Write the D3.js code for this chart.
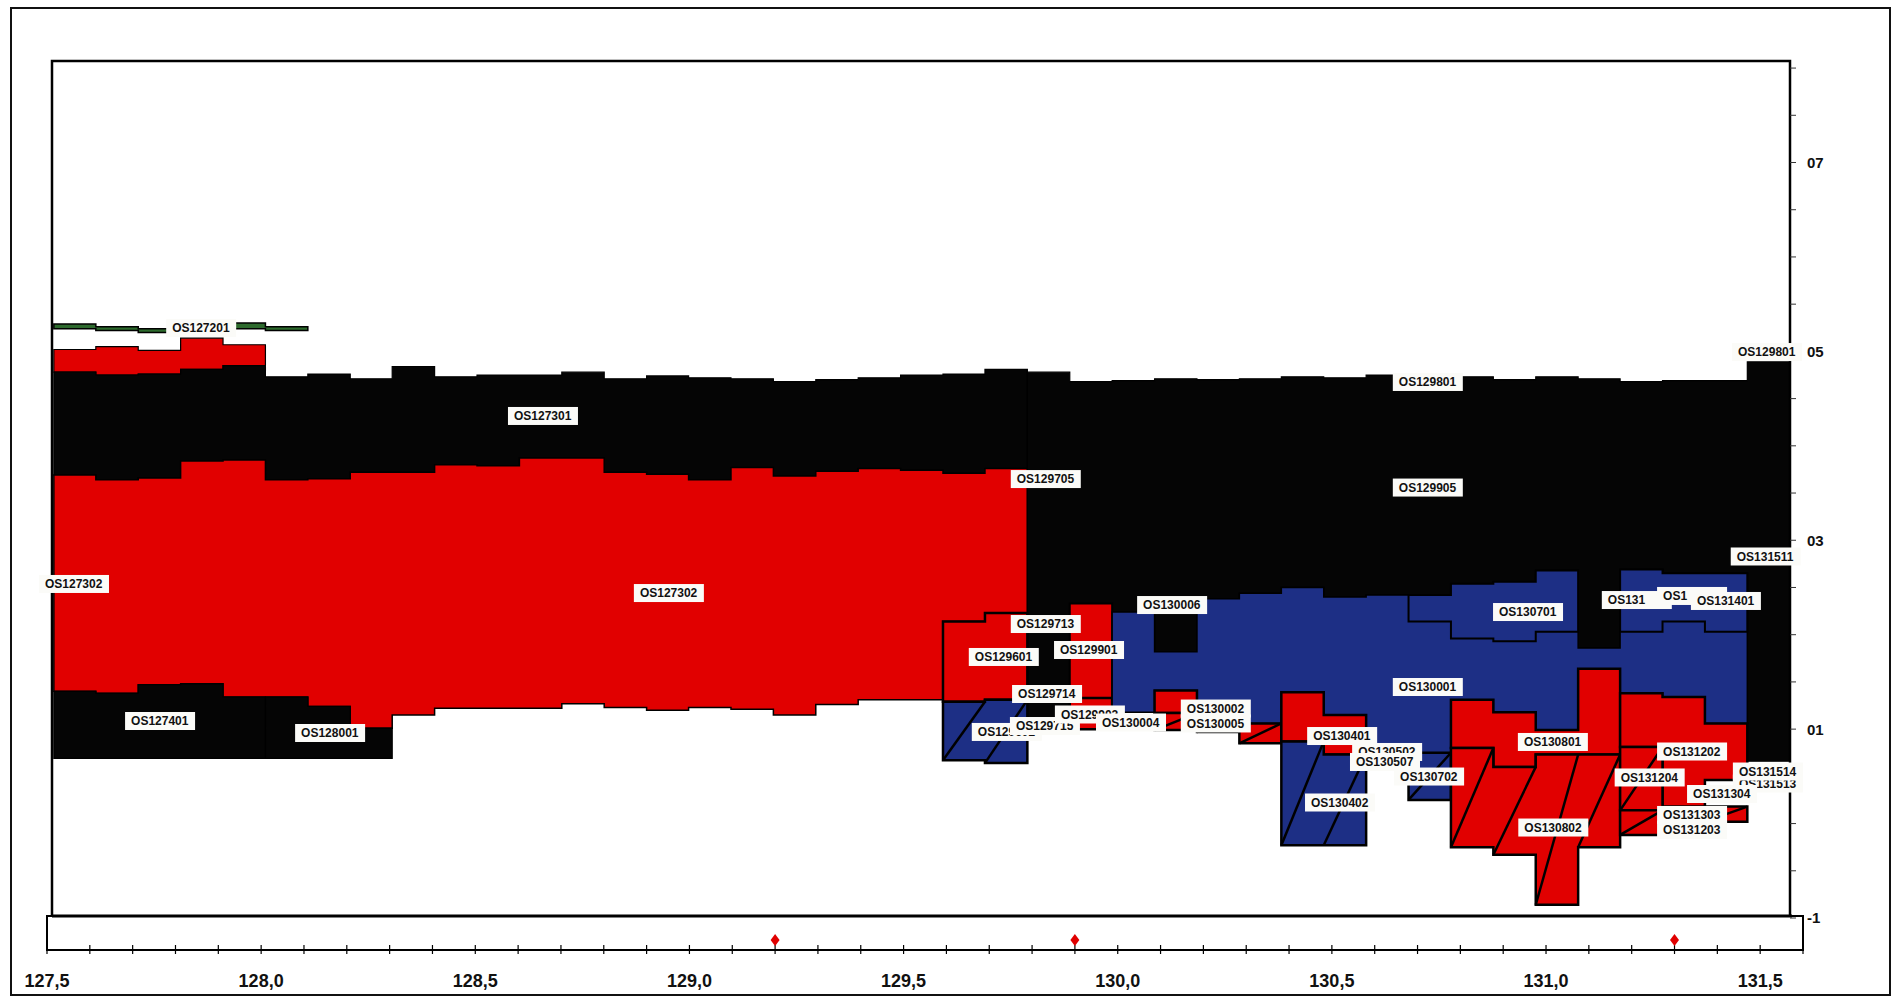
<!DOCTYPE html>
<html><head><meta charset="utf-8">
<script src="https://cdn.jsdelivr.net/npm/d3@7"></script>
<style>body{margin:0;background:#fff}svg{display:block}</style>
</head><body>
<svg id="c" width="1897" height="999"></svg>
<script>
// ---------- DATA ----------
// borehole column edges (km)
const binEdges = [127.516,127.614,127.713,127.812,127.911,128.010,128.109,128.208,128.306,128.405,128.504,128.603,128.702,128.801,128.900,128.998,129.097,129.196,129.295,129.394,129.493,129.592,129.690,129.789,129.888,129.987,130.086,130.185,130.284,130.382,130.481,130.580,130.679,130.778,130.877,130.976,131.075,131.173,131.272,131.371,131.470,131.569];

const xMajorValues = [127.5,128.0,128.5,129.0,129.5,130.0,130.5,131.0,131.5];
const xTickLabels = ["127,5","128,0","128,5","129,0","129,5","130,0","130,5","131,0","131,5"];
const yTickValues = [-1,1,3,5,7];
const yTickLabels = ["-1","01","03","05","07"];
const markerKm = [129.2,129.9,131.3];

// layers: start column, top and bottom elevations per column
const os127201Top = [5.29,5.26,5.24,5.25,5.30,5.26];
const os127201Bot = [5.24,5.22,5.20,5.21,5.24,5.22];
const redUpperTop = [5.02,5.05,5.01,5.14,5.07];
const redUpperBot = [4.78,4.75,4.76,4.81,4.85];
const os127301Top = [4.78,4.75,4.76,4.81,4.85,4.73,4.76,4.71,4.84,4.73,4.75,4.75,4.78,4.71,4.74,4.72,4.71,4.68,4.70,4.72,4.75,4.76,4.81];
const os127301Bot = [3.69,3.64,3.66,3.84,3.85,3.64,3.65,3.72,3.72,3.80,3.79,3.87,3.87,3.72,3.70,3.64,3.77,3.68,3.73,3.76,3.74,3.71,3.76];
const os127302Bot = [1.40,1.38,1.47,1.48,1.34,1.34,1.24,1.01,1.15,1.22,1.22,1.22,1.27,1.23,1.20,1.23,1.21,1.15,1.26,1.31,1.31,2.14,2.23];
const os127401Top = [1.40,1.38,1.47,1.48,1.34];
const os127401Bot = [0.69,0.69,0.69,0.69,0.69];
const os128001Top = [1.34,1.24,1.01];
const os128001Bot = [0.69,0.69,0.69];
const os129905Top = [4.78,4.68,4.69,4.71,4.70,4.71,4.73,4.72,4.75,4.73,4.73,4.70,4.73,4.71,4.68,4.69,4.69,4.89];
const os129905Bot = [1.12,2.33,2.24,1.82,2.38,2.44,2.50,2.40,2.42,2.42,2.54,2.56,2.68,1.86,2.69,2.65,2.65,0.66];
const os129601Top = [2.14,2.23], os129601Bot = [1.29,1.31];
const os129602Top = [1.29,1.31], os129602Bot = [0.67,0.64];
const os129901Top = [2.33], os129901Bot = [1.33];
const os129902Top = [1.33], os129902Bot = [1.00];
const os130001Top = [2.24,1.82,2.38,2.44,2.50,2.40,2.42,2.42,2.54,2.56,2.68,1.86,2.69,2.65,2.65];
const os130001Bot = [1.18,1.41,1.06,1.06,1.39,1.15,0.78,0.75,1.31,1.18,0.99,1.64,1.38,1.34,1.06];
const os130701Top = [2.42,2.54,2.56,2.68], os130701Bot = [2.14,1.96,1.93,2.03];
const os131401Top = [2.69,2.65,2.65], os131401Bot = [2.03,2.14,2.03];
const os130002Top = [1.41], os130002Bot = [1.17];
const os130005Top = [1.17,1.06,1.06], os130005Bot = [0.99,0.97,0.85];
const os130401Top = [1.39,1.15], os130401Bot = [0.87,0.87];
const os130502Top = [0.87], os130502Bot = [0.73];
const os130402Top = [0.87,0.73], os130402Bot = [-0.23,-0.23];
const os130702Top = [0.75], os130702Bot = [0.25];
const os130801Top = [1.31,1.18,0.99,1.64], os130801Bot = [0.80,0.60,0.73,0.73];
const os130802Top = [0.80,0.60,0.73,0.73], os130802Bot = [-0.25,-0.33,-0.86,-0.25];
const os131202Top = [1.38,1.34,1.06], os131202Bot = [0.81,0.18,0.46];
const os131204Top = [0.81], os131204Bot = [0.14];
const os131203Top = [0.14], os131203Bot = [-0.12];
const os131303Top = [0.18], os131303Bot = [0.02];

// labels
const labelNames = ["OS127201","OS127301","OS127302","OS127302","OS127401","OS128001","OS129705","OS129801","OS129801","OS129905","OS131511","OS130006","OS129713","OS130701","OS131","OS1","OS131401","OS129601","OS129901","OS129714","OS129602","OS129715","OS129902","OS130004","OS130002","OS130005","OS130001","OS130401","OS130502","OS130507","OS130702","OS130402","OS130801","OS130802","OS131202","OS131204","OS131513","OS131514","OS131304","OS131303","OS131203"];
const labelKm = [127.860,128.658,127.563,128.952,127.764,128.161,129.832,130.724,131.516,130.724,131.513,130.127,129.832,130.958,131.212,131.341,131.420,129.734,129.933,129.835,129.741,129.830,129.935,130.031,130.229,130.229,130.724,130.524,130.629,130.624,130.727,130.519,131.016,131.017,131.341,131.242,131.518,131.518,131.411,131.341,131.341];
const labelVal = [5.247,4.316,2.537,2.441,1.086,0.959,3.648,4.676,4.993,3.558,2.828,2.314,2.113,2.240,2.367,2.410,2.357,1.764,1.838,1.372,0.970,1.033,1.155,1.070,1.218,1.060,1.446,0.927,0.758,0.652,0.498,0.223,0.864,-0.042,0.763,0.488,0.424,0.551,0.313,0.091,-0.068];

// ---------- STYLE ----------
const RED = "#e10000", BLUE = "#1d2f85", BLACK = "#050505", GREEN = "#2d6a2d";
const FONT = "'Liberation Sans', Arial, Helvetica, sans-serif";

const layers = [
  {start:0, top:os127201Top, bot:os127201Bot, fill:GREEN, sw:1.5},
  {start:0, top:redUpperTop, bot:redUpperBot, fill:RED, sw:1.2},
  {start:0, top:os127301Top, bot:os127301Bot, fill:BLACK, sw:1.2},
  {start:0, top:os127301Bot, bot:os127302Bot, fill:RED, sw:1.5},
  {start:0, top:os127401Top, bot:os127401Bot, fill:BLACK, sw:1.2},
  {start:5, top:os128001Top, bot:os128001Bot, fill:BLACK, sw:1.2},
  {start:23, top:os129905Top, bot:os129905Bot, fill:BLACK, sw:1.2},
  {start:21, top:os129601Top, bot:os129601Bot, fill:RED, sw:2.5},
  {start:21, top:os129602Top, bot:os129602Bot, fill:BLUE, sw:2.5, diag:true},
  {start:24, top:os129901Top, bot:os129901Bot, fill:RED, sw:2},
  {start:24, top:os129902Top, bot:os129902Bot, fill:RED, sw:2.5},
  {start:25, top:os130001Top, bot:os130001Bot, fill:BLUE, sw:1.5},
  {start:32, top:os130701Top, bot:os130701Bot, fill:BLUE, sw:2},
  {start:37, top:os131401Top, bot:os131401Bot, fill:BLUE, sw:2},
  {start:26, top:os130002Top, bot:os130002Bot, fill:RED, sw:2.5},
  {start:26, top:os130005Top, bot:os130005Bot, fill:RED, sw:2.5, diag:true},
  {start:29, top:os130401Top, bot:os130401Bot, fill:RED, sw:2.5},
  {start:30, top:os130502Top, bot:os130502Bot, fill:RED, sw:2.5},
  {start:29, top:os130402Top, bot:os130402Bot, fill:BLUE, sw:2.5, diag:true},
  {start:32, top:os130702Top, bot:os130702Bot, fill:BLUE, sw:2.5, diag:true},
  {start:33, top:os130801Top, bot:os130801Bot, fill:RED, sw:2.5},
  {start:33, top:os130802Top, bot:os130802Bot, fill:RED, sw:2.5, diag:true},
  {start:37, top:os131202Top, bot:os131202Bot, fill:RED, sw:2.5},
  {start:37, top:os131204Top, bot:os131204Bot, fill:RED, sw:2.5, diag:true},
  {start:37, top:os131203Top, bot:os131203Bot, fill:RED, sw:2.5, diag:true},
  {start:39, top:os131303Top, bot:os131303Bot, fill:RED, sw:2.5, diag:true}
];

// ---------- DRAW ----------
const svg = d3.select("#c");
const x = d3.scaleLinear().domain([127.5, 131.6]).range([47, 1803]);
const y = d3.scaleLinear().domain([-1, 7]).range([918, 162.5]);

// outer border
svg.append("rect").attr("x",11).attr("y",8).attr("width",1879).attr("height",987)
  .attr("fill","none").attr("stroke","#111").attr("stroke-width",2);

const line = d3.line().x(d => x(d[0])).y(d => y(d[1]));
const gL = svg.append("g");
layers.forEach(L => {
  const n = L.top.length, pts = [];
  for (let i = 0; i < n; i++) {
    pts.push([binEdges[L.start+i], L.top[i]], [binEdges[L.start+i+1], L.top[i]]);
  }
  for (let i = n-1; i >= 0; i--) {
    pts.push([binEdges[L.start+i+1], L.bot[i]], [binEdges[L.start+i], L.bot[i]]);
  }
  gL.append("path").attr("d", line(pts) + "Z")
    .attr("fill", L.fill).attr("stroke", "#000").attr("stroke-width", L.sw)
    .attr("stroke-linejoin","miter");
  if (L.diag) {
    for (let i = 0; i < n; i++) {
      gL.append("line")
        .attr("x1", x(binEdges[L.start+i])).attr("y1", y(L.bot[i]))
        .attr("x2", x(binEdges[L.start+i+1])).attr("y2", y(L.top[i]))
        .attr("stroke","#000").attr("stroke-width",2.5);
    }
  }
});

// plot frame
svg.append("path").attr("d","M52,917 V61 H1790 V917 Z").attr("fill","none")
  .attr("stroke","#000").attr("stroke-width",2.5);

// bottom strip with axis
const stripTop = 916, axisY = 950;
svg.append("rect").attr("x",x(127.5)).attr("y",stripTop).attr("width",x(131.6)-x(127.5))
  .attr("height",axisY-stripTop).attr("fill","#fff").attr("stroke","#000").attr("stroke-width",2);
// re-draw plot bottom line over strip top
svg.append("line").attr("x1",52).attr("x2",1792).attr("y1",916).attr("y2",916)
  .attr("stroke","#000").attr("stroke-width",3);

const minorX = d3.range(0, 42).map(i => 127.5 + i*0.1);
svg.append("g").selectAll("line").data(minorX).join("line")
  .attr("x1", d => x(d)).attr("x2", d => x(d)).attr("y1", axisY-5).attr("y2", axisY+4)
  .attr("stroke","#000").attr("stroke-width",1.2);
svg.append("g").selectAll("text").data(xMajorValues).join("text")
  .attr("x", d => x(d)).attr("y", 987).attr("text-anchor","middle")
  .attr("font-family",FONT).attr("font-size",18).attr("font-weight","bold").attr("fill","#111")
  .text((d,i) => xTickLabels[i]);

// markers
svg.append("g").selectAll("path").data(markerKm).join("path")
  .attr("d", d => `M${x(d)},934 L${x(d)+4.5},940 L${x(d)},946 L${x(d)-4.5},940 Z`)
  .attr("fill","#e00000");

// right axis
const axisX = 1790;
const minorY = d3.range(0, 19).map(i => -1 + i*0.5);
svg.append("g").selectAll("line").data(minorY).join("line")
  .attr("x1", axisX).attr("x2", axisX+6).attr("y1", d => y(d)).attr("y2", d => y(d))
  .attr("stroke","#333").attr("stroke-width",1);
svg.append("g").selectAll("text").data(yTickValues).join("text")
  .attr("x", 1807).attr("y", d => y(d)).attr("dy","0.36em")
  .attr("font-family",FONT).attr("font-size",15).attr("font-weight","bold").attr("fill","#111")
  .text((d,i) => yTickLabels[i]);

// labels
const gT = svg.append("g");
labelNames.forEach((name, i) => {
  const cx = x(labelKm[i]), cy = y(labelVal[i]);
  gT.append("rect").attr("x", cx-35).attr("y", cy-9).attr("width",70).attr("height",18)
    .attr("fill","#fbfbf8");
  gT.append("text").attr("x", cx-29).attr("y", cy).attr("dy","0.36em")
    .attr("font-family",FONT).attr("font-size",12).attr("font-weight","bold").attr("fill","#111")
    .text(name);
});
</script>
</body></html>
